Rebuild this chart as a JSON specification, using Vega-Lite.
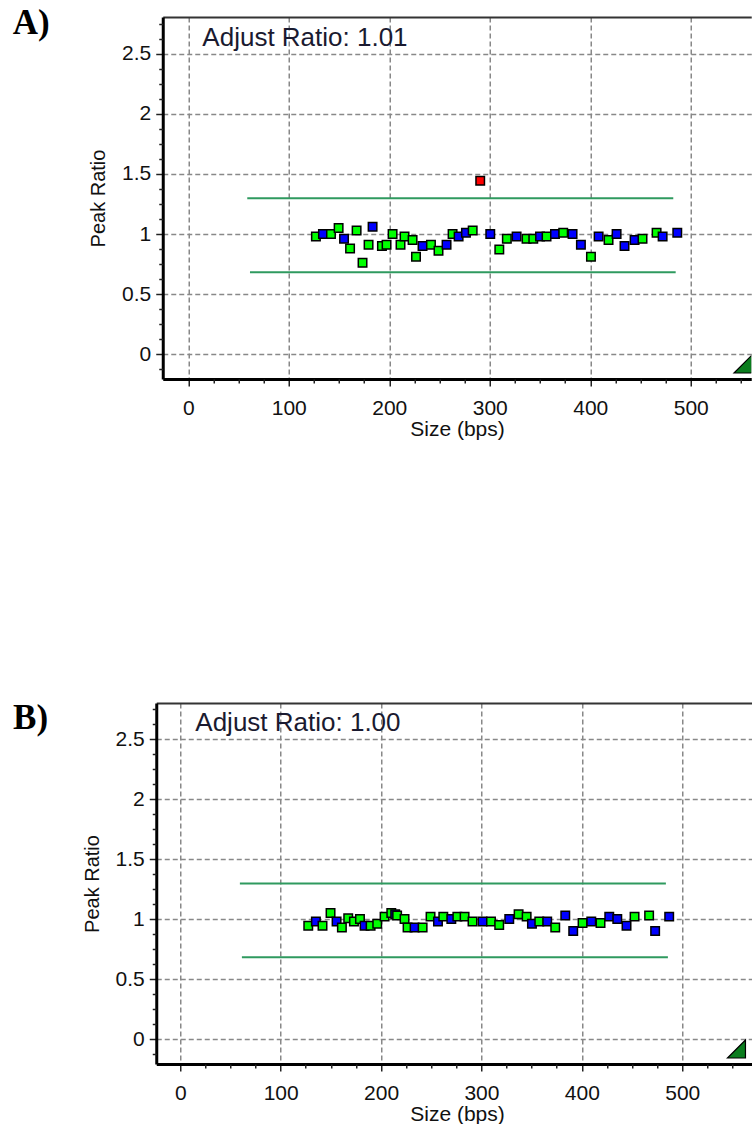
{
  "$schema": "https://vega.github.io/schema/vega-lite/v6.json",
  "background": "white",
  "padding": {"left": 12, "top": 6, "right": 0, "bottom": 0},
  "spacing": 262,
  "center": true,
  "config": {
    "view": {"stroke": null},
    "font": "Liberation Sans",
    "axis": {
      "labelFont": "Liberation Sans",
      "labelFontSize": 21,
      "labelColor": "#111111",
      "titleFont": "Liberation Sans",
      "titleFontWeight": "normal",
      "titleColor": "#111111",
      "domainColor": "#000000",
      "tickColor": "#222222"
    }
  },
  "datasets": {
    "limitsA": [
      {"start": 58.7, "end": 482.6, "level": 1.297},
      {"start": 61.4, "end": 485.0, "level": 0.681}
    ],
    "limitsB": [
      {"start": 59.4, "end": 483.7, "level": 1.297},
      {"start": 61.4, "end": 485.7, "level": 0.681}
    ],
    "labelA": [{"label": "Adjust Ratio: 1.01", "x": 14, "y": 2.569}],
    "labelB": [{"label": "Adjust Ratio: 1.00", "x": 15, "y": 2.569}],
    "markerA": [{"x": 552, "y": -0.083}],
    "markerB": [{"x": 554, "y": -0.083}],
    "pointsA": [
      {"size": 127, "ratio": 0.98, "flag": "g"},
      {"size": 134, "ratio": 1.0, "flag": "b"},
      {"size": 142, "ratio": 1.0, "flag": "g"},
      {"size": 149.6, "ratio": 1.05, "flag": "g"},
      {"size": 155, "ratio": 0.96, "flag": "b"},
      {"size": 161, "ratio": 0.88, "flag": "g"},
      {"size": 167.5, "ratio": 1.03, "flag": "g"},
      {"size": 173.4, "ratio": 0.76, "flag": "g"},
      {"size": 179.4, "ratio": 0.91, "flag": "g"},
      {"size": 183.4, "ratio": 1.06, "flag": "b"},
      {"size": 192.7, "ratio": 0.9, "flag": "g"},
      {"size": 197.3, "ratio": 0.91, "flag": "g"},
      {"size": 203.3, "ratio": 1.0, "flag": "g"},
      {"size": 211.2, "ratio": 0.91, "flag": "g"},
      {"size": 215.2, "ratio": 0.98, "flag": "g"},
      {"size": 223.2, "ratio": 0.95, "flag": "g"},
      {"size": 226.6, "ratio": 0.81, "flag": "g"},
      {"size": 233.1, "ratio": 0.9, "flag": "b"},
      {"size": 241.5, "ratio": 0.91, "flag": "g"},
      {"size": 249, "ratio": 0.86, "flag": "g"},
      {"size": 257, "ratio": 0.91, "flag": "b"},
      {"size": 263, "ratio": 1.0, "flag": "g"},
      {"size": 269, "ratio": 0.98, "flag": "b"},
      {"size": 276.3, "ratio": 1.01, "flag": "b"},
      {"size": 283, "ratio": 1.03, "flag": "g"},
      {"size": 290.5, "ratio": 1.444, "flag": "r"},
      {"size": 300.5, "ratio": 1.0, "flag": "b"},
      {"size": 309.5, "ratio": 0.87, "flag": "g"},
      {"size": 317, "ratio": 0.96, "flag": "g"},
      {"size": 326.7, "ratio": 0.98, "flag": "b"},
      {"size": 336.6, "ratio": 0.96, "flag": "g"},
      {"size": 343.3, "ratio": 0.96, "flag": "g"},
      {"size": 350, "ratio": 0.98, "flag": "b"},
      {"size": 356.5, "ratio": 0.98, "flag": "g"},
      {"size": 364.9, "ratio": 1.0, "flag": "b"},
      {"size": 373.1, "ratio": 1.01, "flag": "g"},
      {"size": 382.4, "ratio": 1.0, "flag": "b"},
      {"size": 390.7, "ratio": 0.91, "flag": "b"},
      {"size": 400.7, "ratio": 0.81, "flag": "g"},
      {"size": 408.3, "ratio": 0.98, "flag": "b"},
      {"size": 418.2, "ratio": 0.95, "flag": "g"},
      {"size": 426.2, "ratio": 1.0, "flag": "b"},
      {"size": 434.1, "ratio": 0.9, "flag": "b"},
      {"size": 444.1, "ratio": 0.95, "flag": "b"},
      {"size": 452, "ratio": 0.96, "flag": "g"},
      {"size": 466, "ratio": 1.01, "flag": "g"},
      {"size": 472, "ratio": 0.98, "flag": "b"},
      {"size": 486.6, "ratio": 1.01, "flag": "b"}
    ],
    "pointsB": [
      {"size": 127.5, "ratio": 0.944, "flag": "g"},
      {"size": 135.1, "ratio": 0.98, "flag": "b"},
      {"size": 141.7, "ratio": 0.944, "flag": "g"},
      {"size": 149.7, "ratio": 1.05, "flag": "g"},
      {"size": 155.7, "ratio": 0.98, "flag": "b"},
      {"size": 161, "ratio": 0.93, "flag": "g"},
      {"size": 167.3, "ratio": 1.006, "flag": "g"},
      {"size": 173, "ratio": 0.98, "flag": "g"},
      {"size": 179, "ratio": 1.0, "flag": "g"},
      {"size": 183.6, "ratio": 0.944, "flag": "b"},
      {"size": 189.6, "ratio": 0.944, "flag": "g"},
      {"size": 196.2, "ratio": 0.96, "flag": "g"},
      {"size": 203.5, "ratio": 1.02, "flag": "g"},
      {"size": 210.2, "ratio": 1.05, "flag": "g"},
      {"size": 214.1, "ratio": 1.04, "flag": "b"},
      {"size": 216, "ratio": 1.03, "flag": "g"},
      {"size": 223.4, "ratio": 1.0, "flag": "g"},
      {"size": 226.4, "ratio": 0.93, "flag": "g"},
      {"size": 233.4, "ratio": 0.93, "flag": "b"},
      {"size": 241.4, "ratio": 0.93, "flag": "g"},
      {"size": 249.3, "ratio": 1.02, "flag": "g"},
      {"size": 256.7, "ratio": 0.98, "flag": "b"},
      {"size": 262, "ratio": 1.02, "flag": "g"},
      {"size": 270, "ratio": 1.0, "flag": "b"},
      {"size": 276, "ratio": 1.02, "flag": "g"},
      {"size": 283.2, "ratio": 1.02, "flag": "g"},
      {"size": 291.1, "ratio": 0.98, "flag": "g"},
      {"size": 301.1, "ratio": 0.98, "flag": "b"},
      {"size": 309.5, "ratio": 0.98, "flag": "g"},
      {"size": 317.7, "ratio": 0.95, "flag": "g"},
      {"size": 327.7, "ratio": 1.0, "flag": "b"},
      {"size": 337, "ratio": 1.04, "flag": "g"},
      {"size": 345, "ratio": 1.02, "flag": "g"},
      {"size": 350.3, "ratio": 0.96, "flag": "b"},
      {"size": 357.6, "ratio": 0.98, "flag": "g"},
      {"size": 365.5, "ratio": 0.98, "flag": "b"},
      {"size": 373.5, "ratio": 0.93, "flag": "g"},
      {"size": 383.5, "ratio": 1.03, "flag": "b"},
      {"size": 391.4, "ratio": 0.9, "flag": "b"},
      {"size": 400.7, "ratio": 0.967, "flag": "g"},
      {"size": 409.4, "ratio": 0.98, "flag": "b"},
      {"size": 418.6, "ratio": 0.967, "flag": "g"},
      {"size": 427.3, "ratio": 1.02, "flag": "b"},
      {"size": 435.3, "ratio": 1.0, "flag": "b"},
      {"size": 444.5, "ratio": 0.944, "flag": "b"},
      {"size": 452.5, "ratio": 1.02, "flag": "g"},
      {"size": 467, "ratio": 1.03, "flag": "g"},
      {"size": 473, "ratio": 0.9, "flag": "b"},
      {"size": 487, "ratio": 1.02, "flag": "b"}
    ]
  },
  "vconcat": [
    {
      "width": 588.5,
      "height": 362,
      "title": {"text": "A)", "orient": "left", "anchor": "end", "angle": 0, "align": "left", "baseline": "alphabetic", "dy": 17, "offset": 39, "font": "Liberation Serif", "fontSize": 35, "fontWeight": "bold", "color": "#000000"},
      "resolve": {"axis": {"x": "independent", "y": "independent"}},
      "layer": [
        {
          "data": {"name": "limitsA"},
          "mark": {"type": "rule", "color": "#2f9a5f", "strokeWidth": 2},
          "encoding": {
            "x": {"field": "start", "type": "quantitative", "scale": {"domain": [-25.4, 560.2], "nice": false, "zero": false},
              "axis": {"orient": "bottom", "values": [0, 100, 200, 300, 400, 500], "format": "d", "title": "Size (bps)", "titleFontSize": 21, "titlePadding": 0, "grid": true, "gridDash": [5, 3], "gridColor": "#888888", "gridWidth": 1.5, "domainWidth": 3, "tickSize": 7, "tickWidth": 1.5, "labelPadding": 11, "labelFlush": false, "labelOverlap": false}},
            "x2": {"field": "end"},
            "y": {"field": "level", "type": "quantitative", "scale": {"domain": [-0.208, 2.808], "nice": false, "zero": false},
              "axis": {"orient": "left", "values": [0, 0.5, 1, 1.5, 2, 2.5], "format": "~g", "title": "Peak Ratio", "titleFontSize": 20, "titlePadding": 13, "grid": true, "gridDash": [5, 3], "gridColor": "#888888", "gridWidth": 1.5, "domainWidth": 3, "tickSize": 7, "tickWidth": 1.5, "labelPadding": 5, "labelFlush": false, "labelOverlap": false}}
          }
        },
        {
          "data": {"name": "pointsA"},
          "mark": {"type": "point", "shape": "square", "filled": true, "size": 72, "stroke": "#000000", "strokeWidth": 1.5, "opacity": 1},
          "encoding": {
            "x": {"field": "size", "type": "quantitative",
              "axis": {"orient": "bottom", "values": [25, 50, 75, 125, 150, 175, 225, 250, 275, 325, 350, 375, 425, 450, 475, 525, 550], "labels": false, "grid": false, "domain": false, "tickSize": 4, "tickWidth": 1.5, "title": null}},
            "y": {"field": "ratio", "type": "quantitative",
              "axis": {"orient": "left", "values": [-0.125, 0.125, 0.25, 0.375, 0.625, 0.75, 0.875, 1.125, 1.25, 1.375, 1.625, 1.75, 1.875, 2.125, 2.25, 2.375, 2.625, 2.75], "labels": false, "grid": false, "domain": false, "tickSize": 4, "tickWidth": 1.5, "title": null}},
            "fill": {"field": "flag", "type": "nominal", "scale": {"domain": ["g", "b", "r"], "range": ["#00ff00", "#0000ff", "#ff0000"]}, "legend": null}
          }
        },
        {
          "data": {"name": "labelA"},
          "mark": {"type": "text", "align": "left", "baseline": "alphabetic", "fontSize": 26, "font": "Liberation Sans", "color": "#1a1a30"},
          "encoding": {
            "x": {"field": "x", "type": "quantitative", "axis": {"orient": "top", "labels": false, "ticks": false, "grid": false, "title": null, "domainColor": "#333333", "domainWidth": 2}},
            "y": {"field": "y", "type": "quantitative", "axis": null},
            "text": {"field": "label"}
          }
        },
        {
          "data": {"name": "markerA"},
          "mark": {"type": "point", "shape": "M -1 1 L 1 -1 L 1 1 Z", "filled": true, "size": 324, "fill": "#0a7d1e", "stroke": "#000000", "strokeWidth": 1.2, "opacity": 1, "clip": true},
          "encoding": {
            "x": {"field": "x", "type": "quantitative", "axis": null},
            "y": {"field": "y", "type": "quantitative", "axis": null}
          }
        }
      ]
    },
    {
      "width": 601.5,
      "height": 361,
      "title": {"text": "B)", "orient": "left", "anchor": "end", "angle": 0, "align": "left", "baseline": "alphabetic", "dy": 26, "offset": 34, "font": "Liberation Serif", "fontSize": 35, "fontWeight": "bold", "color": "#000000"},
      "resolve": {"axis": {"x": "independent", "y": "independent"}},
      "layer": [
        {
          "data": {"name": "limitsB"},
          "mark": {"type": "rule", "color": "#2f9a5f", "strokeWidth": 2},
          "encoding": {
            "x": {"field": "start", "type": "quantitative", "scale": {"domain": [-23.9, 575.2], "nice": false, "zero": false},
              "axis": {"orient": "bottom", "values": [0, 100, 200, 300, 400, 500], "format": "d", "title": "Size (bps)", "titleFontSize": 21, "titlePadding": 0, "grid": true, "gridDash": [5, 3], "gridColor": "#888888", "gridWidth": 1.5, "domainWidth": 3, "tickSize": 7, "tickWidth": 1.5, "labelPadding": 11, "labelFlush": false, "labelOverlap": false}},
            "x2": {"field": "end"},
            "y": {"field": "level", "type": "quantitative", "scale": {"domain": [-0.208, 2.8], "nice": false, "zero": false},
              "axis": {"orient": "left", "values": [0, 0.5, 1, 1.5, 2, 2.5], "format": "~g", "title": "Peak Ratio", "titleFontSize": 20, "titlePadding": 13, "grid": true, "gridDash": [5, 3], "gridColor": "#888888", "gridWidth": 1.5, "domainWidth": 3, "tickSize": 7, "tickWidth": 1.5, "labelPadding": 5, "labelFlush": false, "labelOverlap": false}}
          }
        },
        {
          "data": {"name": "pointsB"},
          "mark": {"type": "point", "shape": "square", "filled": true, "size": 72, "stroke": "#000000", "strokeWidth": 1.5, "opacity": 1},
          "encoding": {
            "x": {"field": "size", "type": "quantitative",
              "axis": {"orient": "bottom", "values": [25, 50, 75, 125, 150, 175, 225, 250, 275, 325, 350, 375, 425, 450, 475, 525, 550], "labels": false, "grid": false, "domain": false, "tickSize": 4, "tickWidth": 1.5, "title": null}},
            "y": {"field": "ratio", "type": "quantitative",
              "axis": {"orient": "left", "values": [-0.125, 0.125, 0.25, 0.375, 0.625, 0.75, 0.875, 1.125, 1.25, 1.375, 1.625, 1.75, 1.875, 2.125, 2.25, 2.375, 2.625, 2.75], "labels": false, "grid": false, "domain": false, "tickSize": 4, "tickWidth": 1.5, "title": null}},
            "fill": {"field": "flag", "type": "nominal", "scale": {"domain": ["g", "b", "r"], "range": ["#00ff00", "#0000ff", "#ff0000"]}, "legend": null}
          }
        },
        {
          "data": {"name": "labelB"},
          "mark": {"type": "text", "align": "left", "baseline": "alphabetic", "fontSize": 26, "font": "Liberation Sans", "color": "#1a1a30"},
          "encoding": {
            "x": {"field": "x", "type": "quantitative", "axis": {"orient": "top", "labels": false, "ticks": false, "grid": false, "title": null, "domainColor": "#333333", "domainWidth": 2}},
            "y": {"field": "y", "type": "quantitative", "axis": null},
            "text": {"field": "label"}
          }
        },
        {
          "data": {"name": "markerB"},
          "mark": {"type": "point", "shape": "M -1 1 L 1 -1 L 1 1 Z", "filled": true, "size": 324, "fill": "#0a7d1e", "stroke": "#000000", "strokeWidth": 1.2, "opacity": 1, "clip": true},
          "encoding": {
            "x": {"field": "x", "type": "quantitative", "axis": null},
            "y": {"field": "y", "type": "quantitative", "axis": null}
          }
        }
      ]
    }
  ]
}
